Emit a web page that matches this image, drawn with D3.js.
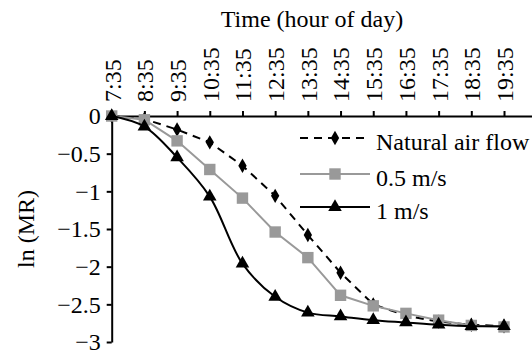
<!DOCTYPE html>
<html>
<head>
<meta charset="utf-8">
<script src="https://cdn.jsdelivr.net/npm/d3@7"></script>
<style>
  body { margin: 0; background: #fff; }
  svg { display: block; font-family: "Liberation Serif", serif; }
</style>
</head>
<body>
<svg width="532" height="356" font-family="Liberation Serif"></svg>
<script>
// time of day labels (x categories)
const times = ['7:35', '8:35', '9:35', '10:35', '11:35', '12:35', '13:35',
  '14:35', '15:35', '16:35', '17:35', '18:35', '19:35'];
// ln(MR) values
const naturalFlow = [0, -0.04, -0.18, -0.35, -0.66, -1.06, -1.58, -2.08, -2.5, -2.65, -2.73, -2.77, -2.79];
const flow05 = [0, -0.05, -0.33, -0.71, -1.09, -1.54, -1.88, -2.38, -2.52, -2.62, -2.71, -2.78, -2.8];
const flow1 = [0, -0.14, -0.55, -1.07, -1.96, -2.4, -2.61, -2.66, -2.71, -2.74, -2.77, -2.79, -2.79];
const yTicks = [0, -0.5, -1, -1.5, -2, -2.5, -3];

const svg = d3.select('svg');
const fontSize = 24;
const font = 'Liberation Serif';

// x axis spans one extra slot past the last label (runs off the right edge)
const x = d3.scaleLinear().domain([0, times.length]).range([111.7, 536.7]);
const y = d3.scaleLinear().domain([-3, 0]).range([342, 116]);

// x axis on top, labels standing upright
const xAxis = svg.append('g')
  .attr('transform', 'translate(0,' + y(0) + ')')
  .call(d3.axisTop(x)
    .tickValues(d3.range(times.length))
    .tickFormat(i => times[i])
    .tickSize(5)
    .tickSizeOuter(0));
xAxis.selectAll('text')
  .attr('transform', 'rotate(-90)')
  .attr('x', 14)
  .attr('y', 0)
  .attr('dy', '0.35em')
  .style('text-anchor', 'start');

// y axis on left
const yAxis = svg.append('g')
  .attr('transform', 'translate(' + x(0) + ',0)')
  .call(d3.axisLeft(y)
    .tickValues(yTicks)
    .tickFormat(d => d === 0 ? '0' : '\u2212' + Math.abs(d))
    .tickSize(5)
    .tickSizeOuter(0));
yAxis.selectAll('text').attr('x', -11);

svg.selectAll('.domain, .tick line')
  .attr('stroke', '#000')
  .attr('stroke-width', 2);
xAxis.attr('font-family', font).attr('font-size', fontSize);
yAxis.attr('font-family', font).attr('font-size', fontSize);
svg.selectAll('.tick text').attr('fill', '#000').attr('font-family', font);

// titles
svg.append('text')
  .attr('x', 312).attr('y', 27)
  .attr('text-anchor', 'middle')
  .attr('font-family', font)
  .attr('font-size', fontSize)
  .text('Time (hour of day)');
svg.append('text')
  .attr('transform', 'translate(34,229) rotate(-90)')
  .attr('text-anchor', 'middle')
  .attr('font-family', font)
  .attr('font-size', fontSize)
  .text('ln (MR)');

const series = [
  { name: 'Natural air flow', values: naturalFlow, color: '#000', dash: '8,6', marker: d3.symbolDiamond, size: 60, curve: d3.curveLinear },
  { name: '0.5 m/s', values: flow05, color: '#999', dash: null, marker: d3.symbolSquare, size: 130, curve: d3.curveLinear },
  { name: '1 m/s', values: flow1, color: '#000', dash: null, marker: d3.symbolTriangle, size: 80, curve: d3.curveCatmullRom }
];

series.forEach(s => {
  const line = d3.line()
    .x((d, i) => x(i))
    .y(d => y(d))
    .curve(s.curve);
  svg.append('path')
    .datum(s.values)
    .attr('d', line)
    .attr('fill', 'none')
    .attr('stroke', s.color)
    .attr('stroke-width', 2)
    .attr('stroke-dasharray', s.dash);
  svg.append('g').selectAll('path')
    .data(s.values)
    .join('path')
    .attr('transform', (d, i) => 'translate(' + x(i) + ',' + y(d) + ')')
    .attr('d', d3.symbol().type(s.marker).size(s.size))
    .attr('fill', s.color);
});

// legend
const legendY = [138, 174, 207];
series.forEach((s, i) => {
  const g = svg.append('g').attr('transform', 'translate(0,' + legendY[i] + ')');
  g.append('line')
    .attr('x1', 300).attr('x2', 370)
    .attr('stroke', s.color)
    .attr('stroke-width', 2)
    .attr('stroke-dasharray', s.dash);
  g.append('path')
    .attr('transform', 'translate(335,0)')
    .attr('d', d3.symbol().type(s.marker).size(s.size))
    .attr('fill', s.color);
  g.append('text')
    .attr('x', 376).attr('y', 12)
    .attr('font-family', font)
    .attr('font-size', fontSize)
    .text(s.name);
});
</script>
</body>
</html>
